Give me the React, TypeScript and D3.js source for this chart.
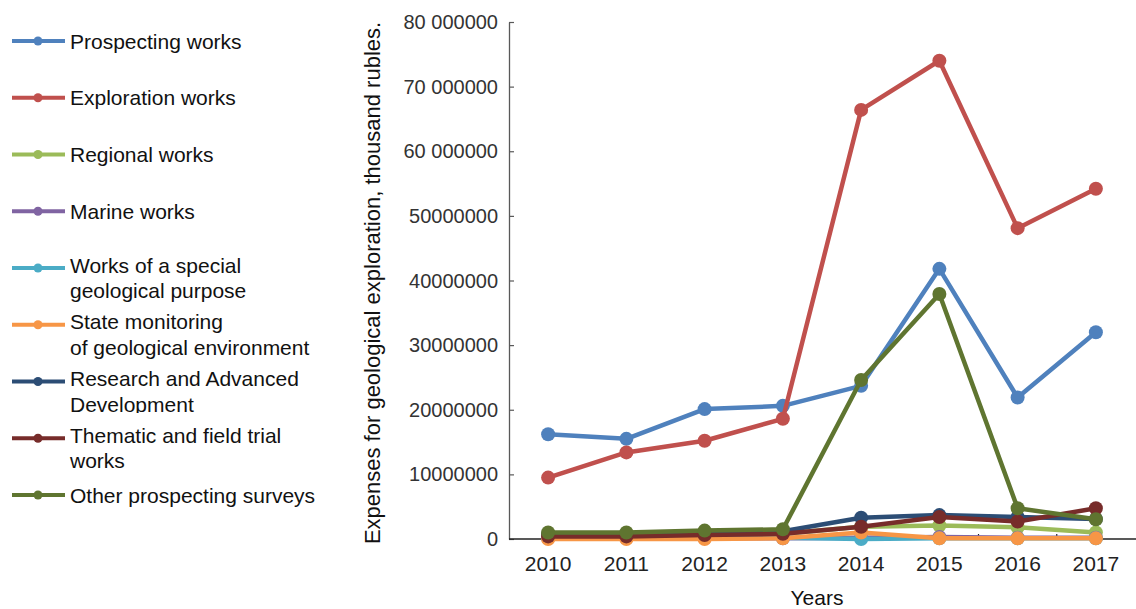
import React, { useRef, useEffect } from 'react';
import * as d3 from 'd3';

const years = ['2010', '2011', '2012', '2013', '2014', '2015', '2016', '2017'];

// values in thousand rubles
const prospecting = [16200000, 15500000, 20100000, 20600000, 23700000, 41800000, 21900000, 32000000];
const exploration = [9500000, 13400000, 15200000, 18600000, 66400000, 74000000, 48100000, 54200000];
const regional = [600000, 600000, 700000, 800000, 1900000, 2100000, 1800000, 1000000];
const marine = [100000, 100000, 100000, 100000, 200000, 300000, 200000, 200000];
const specialPurpose = [200000, 200000, 200000, 200000, 0, 100000, 100000, 100000];
const monitoring = [0, 0, 0, 100000, 1000000, 100000, 100000, 100000];
const research = [800000, 800000, 1000000, 1200000, 3300000, 3700000, 3400000, 3100000];
const thematic = [400000, 400000, 600000, 800000, 1900000, 3400000, 2700000, 4750000];
const otherSurveys = [1000000, 1000000, 1300000, 1500000, 24600000, 37900000, 4750000, 3050000];

const yTicks = [0, 10000000, 20000000, 30000000, 40000000, 50000000, 60000000, 70000000, 80000000];
const yTickLabels = ['0', '10000000', '20000000', '30000000', '40000000', '50000000', '60 000000', '70 000000', '80 000000'];

const seriesNames = [
  ['Prospecting works'],
  ['Exploration works'],
  ['Regional works'],
  ['Marine works'],
  ['Works of a special', 'geological purpose'],
  ['State monitoring', 'of geological environment'],
  ['Research and Advanced', 'Development'],
  ['Thematic and field trial', 'works'],
  ['Other prospecting surveys'],
];
const seriesValues = [prospecting, exploration, regional, marine, specialPurpose, monitoring, research, thematic, otherSurveys];
const seriesColors = ['#4F81BD', '#C0504D', '#9BBB59', '#8064A2', '#4BACC6', '#F79646', '#2C4D75', '#772C2A', '#5F7530'];

const App: React.FC = () => {
  const svgRef = useRef<SVGSVGElement | null>(null);

  useEffect(() => {
    const svg = d3.select(svgRef.current);
    svg.selectAll('*').remove();

    const font = '"Liberation Sans", Arial, sans-serif';
    const left = 509;
    const right = 1135;
    const top = 22;
    const bottom = 539;

    const x = d3.scaleBand<string>().domain(years).range([left, right]);
    const y = d3.scaleLinear().domain([0, 80000000]).range([bottom, top]);

    // y axis with inner ticks
    const yAxis = svg.append('g')
      .attr('transform', `translate(${left},0)`)
      .call(d3.axisRight(y).tickValues(yTicks).tickSize(5).tickSizeOuter(0).tickFormat(() => ''));
    yAxis.select('.domain').attr('stroke', '#595959').attr('stroke-width', 1.3);
    yAxis.selectAll('.tick line').attr('stroke', '#595959').attr('stroke-width', 1.2);

    svg.append('g')
      .selectAll('text')
      .data(yTicks)
      .enter()
      .append('text')
      .attr('x', left - 11)
      .attr('y', d => y(d))
      .attr('dy', '0.35em')
      .attr('text-anchor', 'end')
      .attr('font-family', font)
      .attr('font-size', 20)
      .attr('fill', '#333')
      .text((d, i) => yTickLabels[i]);

    // x axis with ticks between categories
    svg.append('line')
      .attr('x1', left).attr('x2', 1136)
      .attr('y1', bottom).attr('y2', bottom)
      .attr('stroke', '#222').attr('stroke-width', 1.3);

    svg.append('g')
      .selectAll('line')
      .data(years.slice(1))
      .enter()
      .append('line')
      .attr('x1', d => x(d)!).attr('x2', d => x(d)!)
      .attr('y1', bottom).attr('y2', bottom - 5)
      .attr('stroke', '#222').attr('stroke-width', 1.2);

    svg.append('g')
      .selectAll('text')
      .data(years)
      .enter()
      .append('text')
      .attr('x', d => x(d)! + x.bandwidth() / 2)
      .attr('y', 571)
      .attr('text-anchor', 'middle')
      .attr('font-family', font)
      .attr('font-size', 21)
      .attr('fill', '#222')
      .text(d => d);

    // axis titles
    svg.append('text')
      .attr('x', 817)
      .attr('y', 605)
      .attr('text-anchor', 'middle')
      .attr('font-family', font)
      .attr('font-size', 21)
      .attr('fill', '#111')
      .text('Years');

    svg.append('text')
      .attr('transform', `translate(380,${(18 + 548) / 2}) rotate(-90)`)
      .attr('text-anchor', 'middle')
      .attr('font-family', font)
      .attr('font-size', 22)
      .attr('fill', '#111')
      .text('Expenses for geological exploration, thousand rubles.');

    // series
    const line = d3.line<number>()
      .x((d, i) => x(years[i])! + x.bandwidth() / 2)
      .y(d => y(d));

    seriesValues.forEach((vals, si) => {
      const g = svg.append('g');
      g.append('path')
        .datum(vals)
        .attr('d', line)
        .attr('fill', 'none')
        .attr('stroke', seriesColors[si])
        .attr('stroke-width', 4.5)
        .attr('stroke-linejoin', 'round');
      g.selectAll('circle')
        .data(vals)
        .enter()
        .append('circle')
        .attr('cx', (d, i) => x(years[i])! + x.bandwidth() / 2)
        .attr('cy', d => y(d))
        .attr('r', 7)
        .attr('fill', seriesColors[si]);
    });

    // legend
    const legendY = d3.scaleLinear().domain([0, 8]).range([41, 495]);
    const defs = svg.append('defs');
    // the "Development" line is cut off at the bottom in the original
    defs.append('clipPath')
      .attr('id', 'legendClip')
      .append('rect')
      .attr('x', 0).attr('y', 0).attr('width', 340).attr('height', 413);

    const legend = svg.append('g');
    seriesNames.forEach((lines, i) => {
      const ly = legendY(i);
      const item = legend.append('g');
      if (i === 6) item.attr('clip-path', 'url(#legendClip)');
      item.append('line')
        .attr('x1', 12).attr('x2', 65)
        .attr('y1', ly).attr('y2', ly)
        .attr('stroke', seriesColors[i])
        .attr('stroke-width', 4);
      item.append('circle')
        .attr('cx', 38).attr('cy', ly).attr('r', 4.5)
        .attr('fill', seriesColors[i]);
      const firstY = lines.length > 1 ? ly - 3 : ly;
      lines.forEach((t, k) => {
        item.append('text')
          .attr('x', 70)
          .attr('y', firstY + k * 25.5)
          .attr('dy', '0.36em')
          .attr('font-family', font)
          .attr('font-size', 21)
          .attr('fill', '#111')
          .text(t);
      });
    });
  }, []);

  return (
    <div style={{ position: 'absolute', left: 0, top: 0 }}>
      <svg ref={svgRef} width={1136} height={609} style={{ display: 'block', background: '#fff' }}></svg>
    </div>
  );
};

export default App;
